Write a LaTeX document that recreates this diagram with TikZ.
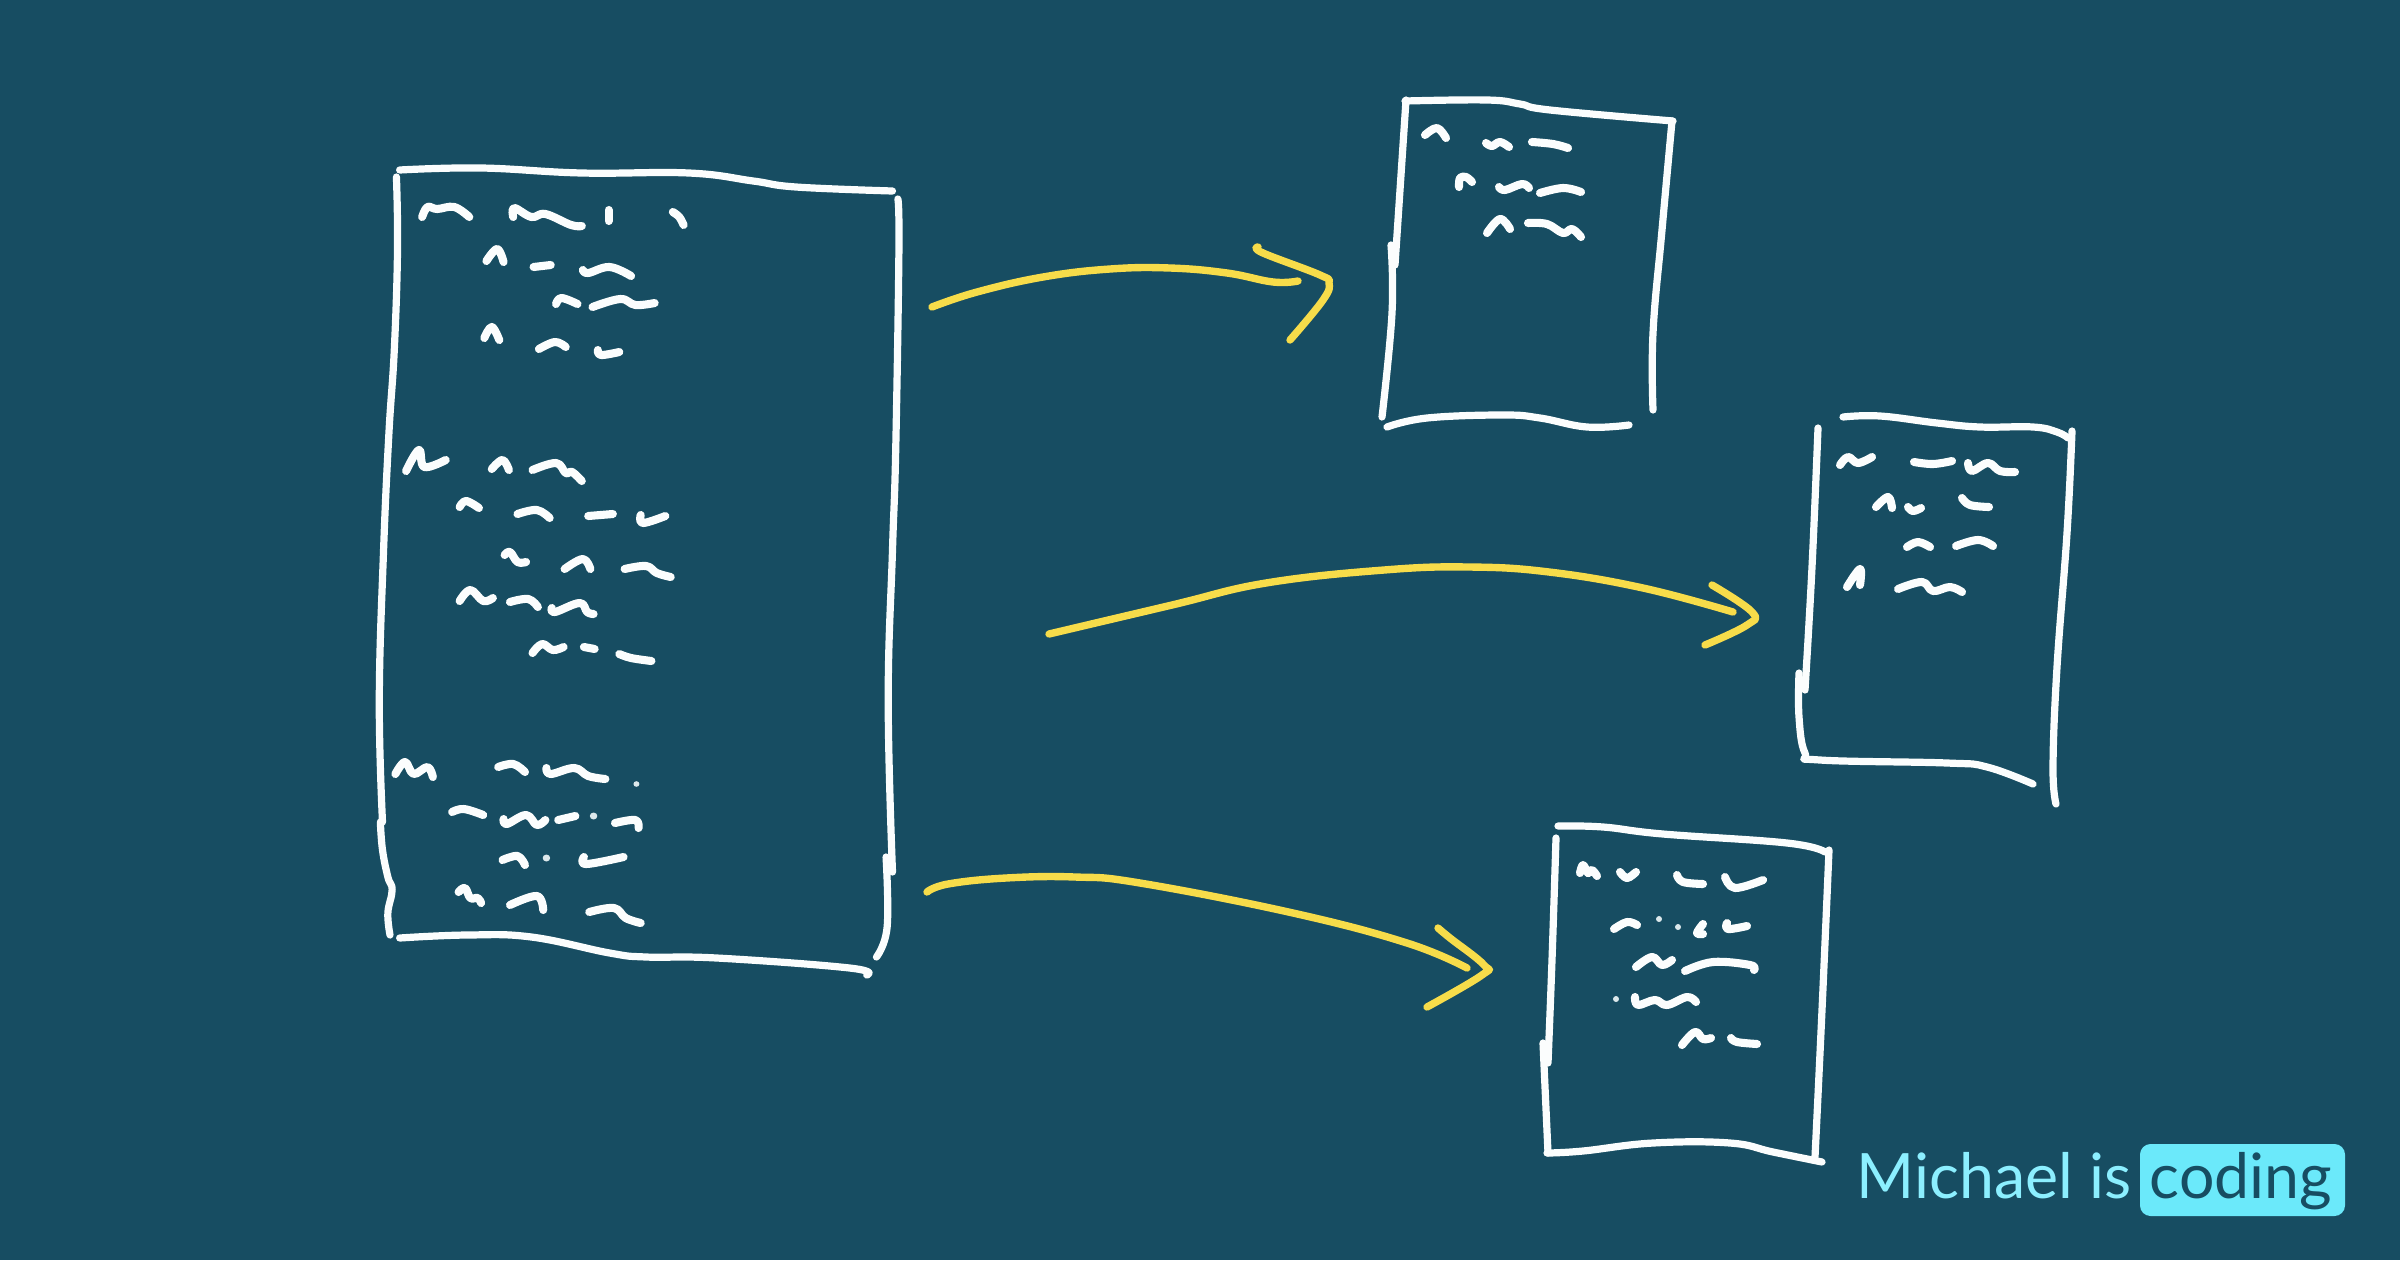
\documentclass[tikz,border=0pt]{standalone}
\usepackage{fontspec}
\setmainfont{Lato}
\definecolor{bgc}{HTML}{174D62}
\definecolor{chalk}{HTML}{FBFDFD}
\definecolor{marker}{HTML}{F7DC4A}
\definecolor{cyanlt}{HTML}{8CEFFF}
\definecolor{cyanbx}{HTML}{6BE9FA}
\definecolor{dotc}{HTML}{DCE8EB}
\tikzset{
  chalkline/.style={draw=chalk,line width=2.05pt,line cap=round,line join=round},
  chalkthin/.style={draw=chalk,line width=2.3pt,line cap=round,line join=round},
  markerline/.style={draw=marker,line width=2.1pt,line cap=round,line join=round},
  brand/.style={inner sep=0pt,anchor=base,font=\fontsize{17.8}{20}\selectfont}
}
\newcommand{\sk}[1]{\draw[chalkline] plot[smooth,tension=0.7] coordinates {#1};}
\newcommand{\sq}[1]{\draw[chalkthin] plot[smooth,tension=0.65] coordinates {#1};}
\newcommand{\ya}[1]{\draw[markerline] plot[smooth,tension=0.7] coordinates {#1};}
\newcommand{\dotmk}[2]{\fill[dotc] (#1) circle (#2);}
\begin{document}
\begin{tikzpicture}[x=0.01cm,y=-0.01cm]
\fill[bgc] (0,0) rectangle (2400,1260);
\useasboundingbox (0,0) rectangle (2400,1260);

% big sheet (traced from a crop with x scale 2.8)
\begin{scope}[shift={(-25.7,0)},xscale=1.0714]
\sk{(397,170)(473,168)(567,173)(667,173)(727,181)(767,187)(857,191)}
\sk{(394,177)(395,250)(392,350)(387,433)(382,550)(378,700)(381,822)}
\sk{(379,822)(381,850)(386,877)(390,890)(386,913)(388,935)}
\sk{(862,199)(863,250)(860,450)(857,550)(853,700)(857,872)}
\sk{(851,857)(852,927)(842,957)}
\sk{(397,938)(460,935)(520,937)(593,953)(627,957)(693,958)(817,968)(833,975)}
\sq{(418,217)(423,207)(432,209)(448,207)(462,217)}
\sq{(503,217)(504,208)(520,217)(533,214)(557,225)(567,226)}
\sq{(592,210)(592,221)}
\sq{(652,212)(658,217)(662,225)}
\sq{(478,261)(488,249)(494,262)}
\sq{(522,267)(538,265)}
\sq{(568,270)(573,273)(593,267)(613,276)}
\sq{(543,304)(548,298)(563,304)}
\sq{(577,307)(603,299)(617,305)(635,303)}
\sq{(476,338)(483,327)(490,340)}
\sq{(527,349)(542,342)(552,347)}
\sq{(582,350)(585,355)(602,352)}
\sq{(403,471)(415,450)(420,467)(440,460)}
\sq{(483,469)(493,460)(499,470)}
\sq{(521,470)(543,463)(552,473)(558,472)(567,481)}
\sq{(453,507)(459,501)(471,508)}
\sq{(507,514)(525,510)(537,518)}
\sq{(573,516)(596,514)}
\sq{(622,515)(624,523)(645,516)}
\sq{(495,555)(500,552)(507,562)(515,562)}
\sq{(551,569)(568,559)(575,569)}
\sq{(607,569)(627,566)(637,573)(650,577)}
\sq{(453,601)(463,590)(475,601)(484,598)}
\sq{(500,602)(517,599)(526,607)}
\sq{(539,608)(542,612)(565,603)(572,612)(578,614)}
\sq{(521,653)(530,644)(540,650)(550,647)}
\sq{(569,647)(579,649)}
\sq{(602,654)(613,658)(632,661)}
\sq{(393,774)(402,762)(410,774)(423,767)(428,777)}
\sq{(489,767)(503,764)(514,772)}
\sq{(534,768)(538,774)(560,768)(573,776)(589,779)}
\dotmk{618,784}{2.8}
\sq{(446,812)(457,809)(475,815)}
\sq{(494,819)(497,824)(515,815)(525,825)(533,820)}
\sq{(545,820)(561,816)}
\dotmk{578,816}{3.5}
\sq{(598,823)(617,820)(620,828)}
\sq{(493,860)(507,856)(514,865)}
\dotmk{534,858}{3.5}
\sq{(569,857)(571,864)(606,857)}
\sq{(452,892)(458,888)(463,898)(470,898)(473,903)}
\sq{(500,905)(525,896)(531,910)}
\sq{(574,912)(597,908)(608,918)(622,923)}
\end{scope}

% sheet 1
\sk{(1405,101)(1487,100)(1520,104)(1550,110)(1673,121)}
\sk{(1672,121)(1662,230)(1653,333)(1653,410)}
\sk{(1406,100)(1395,265)}
\sk{(1391,245)(1392,313)(1382,417)}
\sk{(1387,427)(1427,418)(1503,415)(1540,418)(1587,427)(1629,425)}
\sq{(1425,135)(1437,128)(1446,138)}
\sq{(1486,143)(1492,146)(1500,142)(1509,147)}
\sq{(1532,142)(1553,144)(1568,148)}
\sq{(1459,187)(1460,178)(1466,177)(1472,182)}
\sq{(1499,187)(1505,190)(1522,184)(1529,188)}
\sq{(1540,193)(1563,188)(1581,192)}
\sq{(1487,233)(1500,219)(1510,229)}
\sq{(1528,223)(1547,224)(1563,233)(1572,229)(1581,237)}

% sheet 2
\sk{(1843,417)(1880,416)(1937,423)(1980,427)(2033,427)(2057,432)(2068,438)}
\sk{(2072,431)(2067,533)(2057,667)(2053,767)(2056,804)}
\sk{(1818,428)(1812,567)(1805,690)}
\sk{(1799,673)(1799,717)(1805,753)(1820,760)(1947,763)(1987,767)(2033,784)}
\sq{(1840,465)(1848,457)(1858,463)(1872,457)}
\sq{(1914,462)(1933,464)(1952,461)}
\sq{(1968,463)(1972,471)(1988,463)(2000,471)(2015,472)}
\sq{(1876,507)(1888,497)(1892,508)}
\sq{(1908,507)(1913,511)(1921,508)}
\sq{(1962,498)(1970,505)(1989,507)}
\sq{(1907,547)(1918,542)(1930,547)}
\sq{(1956,546)(1978,540)(1993,546)}
\sq{(1847,587)(1860,569)(1860,585)}
\sq{(1898,589)(1922,582)(1933,591)(1950,587)(1962,592)}

% sheet 3
\sk{(1558,826)(1603,827)(1663,834)(1787,843)(1825,852)}
\sk{(1829,850)(1822,1010)(1815,1157)}
\sk{(1556,838)(1552,960)(1548,1063)}
\sk{(1543,1043)(1548,1153)}
\sk{(1547,1153)(1583,1151)(1653,1143)(1730,1143)(1773,1152)(1822,1162)}
\sq{(1580,873)(1583,865)(1588,873)(1592,870)(1597,876)}
\sq{(1620,872)(1627,878)(1636,872)}
\sq{(1677,875)(1683,882)(1703,884)}
\sq{(1725,877)(1735,888)(1763,880)}
\sq{(1614,929)(1627,922)(1637,925)}
\dotmk{1659,919}{3}
\dotmk{1678,927}{3}
\sq{(1703,924)(1697,933)(1703,934)}
\sq{(1727,923)(1728,929)(1747,926)}
\sq{(1636,967)(1652,957)(1662,965)(1672,960)}
\sq{(1685,971)(1713,962)(1750,965)(1754,970)}
\dotmk{1616,999}{3}
\sq{(1635,997)(1638,1005)(1655,1000)(1667,1005)(1687,997)(1696,1002)}
\sq{(1682,1045)(1695,1032)(1703,1039)(1711,1038)}
\sq{(1731,1038)(1737,1042)(1757,1044)}

% yellow arrows
\ya{(932,307)(977,292)(1043,277)(1110,269)(1170,268)(1227,273)(1273,282)(1298,281)}
\ya{(1258,247)(1263,253)(1320,275)(1329,283)(1323,300)(1290,340)}
\ya{(1049,634)(1172,605)(1266,583)(1384,570)(1469,567)(1549,572)(1643,588)(1733,612)}
\ya{(1712,585)(1752,612)(1747,625)(1705,645)}
\ya{(927,892)(948,884)(1006,878)(1075,877)(1140,883)(1293,913)(1407,943)(1467,968)}
\ya{(1438,928)(1450,938)(1484,965)(1482,975)(1427,1007)}

% wordmark
\fill[cyanbx,rounded corners=3pt] (2140,1144) rectangle (2345,1216);
\node[brand,text=cyanlt] (who) at (1994,1198) {Michael is};
\node[brand,text=bgc] (what) at (2241,1198) {coding};
\end{tikzpicture}
\end{document}
